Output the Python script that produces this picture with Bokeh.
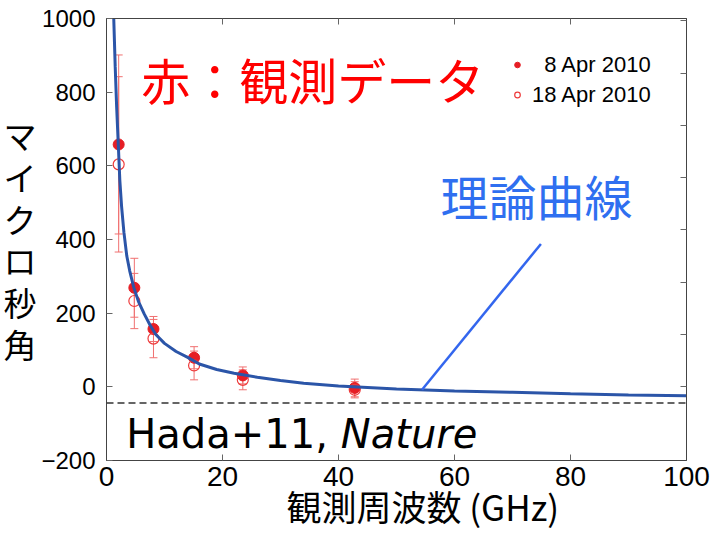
from bokeh.plotting import figure
from bokeh.models import (Range1d, LinearAxis, FixedTicker, Span, Whisker,
                          ColumnDataSource, Label, Legend, LegendItem, TeeHead)
from bokeh.embed import file_html
from bokeh.resources import INLINE

# ---------------- data ----------------
freq_apr08 = [2.1, 4.8, 8.1, 15.1, 23.5, 42.8]
shift_apr08 = [658, 269, 157, 79, 31, -3]
err_apr08 = [243, 80, 34, 30, 23, 24]

freq_apr18 = [2.1, 4.8, 8.1, 15.1, 23.5, 42.8]
shift_apr18 = [604, 233, 131, 58, 19, -8]
err_apr18 = [238, 75, 52, 39, 27, 22]

model_freq = [1.25, 1.5, 1.75, 2.0, 2.3, 2.6, 3.0, 3.5, 4.0, 4.7, 5.5, 6.5, 7.5,
              8.5, 10, 12, 14, 16, 19, 22, 26, 30, 34, 40, 45, 50, 60, 70, 80,
              90, 100]
model_shift = [1000, 870, 760, 670, 560, 490, 420, 355, 315, 270, 232, 198, 168,
               142, 118, 96, 80, 62, 47, 37, 26, 17, 10, 2, -2, -6, -11, -15,
               -19, -22, -24]

bh_offset = -44

x_ticks = [0, 20, 40, 60, 80, 100]
y_ticks = [-200, 0, 200, 400, 600, 800, 1000]
rs_ticks = [0, 20, 40, 60, 80, 100, 120, 140]
uas_per_rs = 7.1

label_apr08 = "  8 Apr 2010"
label_apr18 = "18 Apr 2010"

# ---------------- figure ----------------
p = figure(width=721, height=534, x_range=Range1d(0, 100), y_range=Range1d(-200, 1000),
           output_backend="svg", toolbar_location=None,
           min_border_left=105, min_border_right=35, min_border_top=18,
           min_border_bottom=74)
p.grid.visible = False
p.background_fill_color = "white"
p.border_fill_color = "white"
p.outline_line_color = "#444444"
p.outline_line_width = 1

tick_col = "#666666"
for ax in (p.xaxis[0], p.yaxis[0]):
    ax.axis_line_color = "#444444"
    ax.major_tick_in = 6
    ax.major_tick_out = 0
    ax.minor_tick_line_color = None
    ax.major_tick_line_color = tick_col
    ax.major_label_text_color = "black"

p.xaxis.ticker = FixedTicker(ticks=x_ticks)
p.xaxis.major_label_text_font = "Liberation Sans"
p.xaxis.major_label_text_font_size = "28px"
p.xaxis.major_label_standoff = 6
p.xaxis.axis_label = "\u2003\u2002観測周波数 (GHz)"
p.xaxis.axis_label_text_font = "Noto Sans CJK JP"
p.xaxis.axis_label_text_font_style = "normal"
p.xaxis.axis_label_text_font_size = "35px"
p.xaxis.axis_label_standoff = -9
p.xaxis.axis_label_text_color = "black"

p.yaxis.ticker = FixedTicker(ticks=y_ticks)
p.yaxis.major_label_overrides = {-200: "\u2212200"}
p.yaxis.major_label_text_font = "Liberation Sans"
p.yaxis.major_label_text_font_size = "24px"
p.yaxis.major_label_standoff = 11
# upright stacked y-axis title
p.yaxis.axis_label = "マ\nイ\nク\nロ\n秒\n角"
p.yaxis.axis_label_orientation = "horizontal"
p.yaxis.axis_label_text_font = "Noto Sans CJK JP"
p.yaxis.axis_label_text_font_style = "normal"
p.yaxis.axis_label_text_font_size = "33px"
p.yaxis.axis_label_text_line_height = 0.87
p.yaxis.axis_label_text_color = "black"
p.yaxis.axis_label_standoff = 2

# top axis: ticks only
top = LinearAxis(ticker=FixedTicker(ticks=x_ticks), major_label_text_font_size="0px",
                 major_tick_in=6, major_tick_out=0, minor_tick_line_color=None,
                 major_tick_line_color=tick_col, axis_line_color="#444444")
p.add_layout(top, "above")

# right axis: Schwarzschild-radius ticks, no labels
p.extra_y_ranges = {"rs": Range1d(-200 / uas_per_rs, 1000 / uas_per_rs)}
right = LinearAxis(y_range_name="rs", ticker=FixedTicker(ticks=rs_ticks),
                   major_label_text_font_size="0px", major_tick_in=6, major_tick_out=0,
                   minor_tick_line_color=None, major_tick_line_color=tick_col,
                   axis_line_color="#444444")
p.add_layout(right, "right")

# black-hole offset dashed line
p.add_layout(Span(location=bh_offset, dimension="width", line_color="#333333",
                  line_dash="7 4", line_width=1.5))

# error bars
err_col = "#f07070"
src08 = ColumnDataSource(dict(x=freq_apr08, y=shift_apr08,
                              lo=[v - e for v, e in zip(shift_apr08, err_apr08)],
                              hi=[v + e for v, e in zip(shift_apr08, err_apr08)]))
src18 = ColumnDataSource(dict(x=freq_apr18, y=shift_apr18,
                              lo=[v - e for v, e in zip(shift_apr18, err_apr18)],
                              hi=[v + e for v, e in zip(shift_apr18, err_apr18)]))
for s in (src08, src18):
    p.add_layout(Whisker(base="x", upper="hi", lower="lo", source=s,
                         line_color=err_col, line_width=1,
                         upper_head=TeeHead(size=8, line_color=err_col, line_width=1),
                         lower_head=TeeHead(size=8, line_color=err_col, line_width=1)))

r08 = p.scatter("x", "y", source=src08, size=11, marker="circle",
                fill_color="#e61e25", line_color="#e61e25")
r18 = p.scatter("x", "y", source=src18, size=11, marker="circle",
                fill_alpha=0, line_color="#ee3b3b", line_width=1.2)

# model curve
p.line(model_freq, model_shift, line_color="#2b55a8", line_width=3)

# legend
leg = Legend(items=[LegendItem(label=label_apr08, renderers=[r08]),
                    LegendItem(label=label_apr18, renderers=[r18])],
             location=(404, 352), orientation="vertical",
             glyph_width=14, glyph_height=27, label_height=27, spacing=3,
             label_standoff=8, padding=0, margin=0,
             border_line_alpha=0, background_fill_alpha=0,
             label_text_font="Liberation Sans", label_text_font_size="22px",
             label_text_color="black")
p.add_layout(leg, "center")

# annotations
p.add_layout(Label(x=6.0, y=838, text="赤：観測データ", text_font="Noto Sans CJK JP",
                   text_font_size="49px", text_color="#ff0000",
                   text_align="left", text_baseline="middle"))
p.add_layout(Label(x=57.6, y=522, text="理論曲線", text_font="Noto Sans CJK JP",
                   text_font_size="48px", text_color="#2f6ff0",
                   text_align="left", text_baseline="middle"))
p.line([54.4, 74.9], [-8, 388], line_color="#3366ee", line_width=2.5)

p.add_layout(Label(x=3.4, y=-127, text="Hada+11, ", text_font="DejaVu Sans",
                   text_font_size="40px", text_color="black",
                   text_align="left", text_baseline="middle"))
p.add_layout(Label(x=40.4, y=-127, text="Nature", text_font="DejaVu Sans",
                   text_font_style="italic",
                   text_font_size="40px", text_color="black",
                   text_align="left", text_baseline="middle"))

open("out.html", "w").write(file_html(p, INLINE))
